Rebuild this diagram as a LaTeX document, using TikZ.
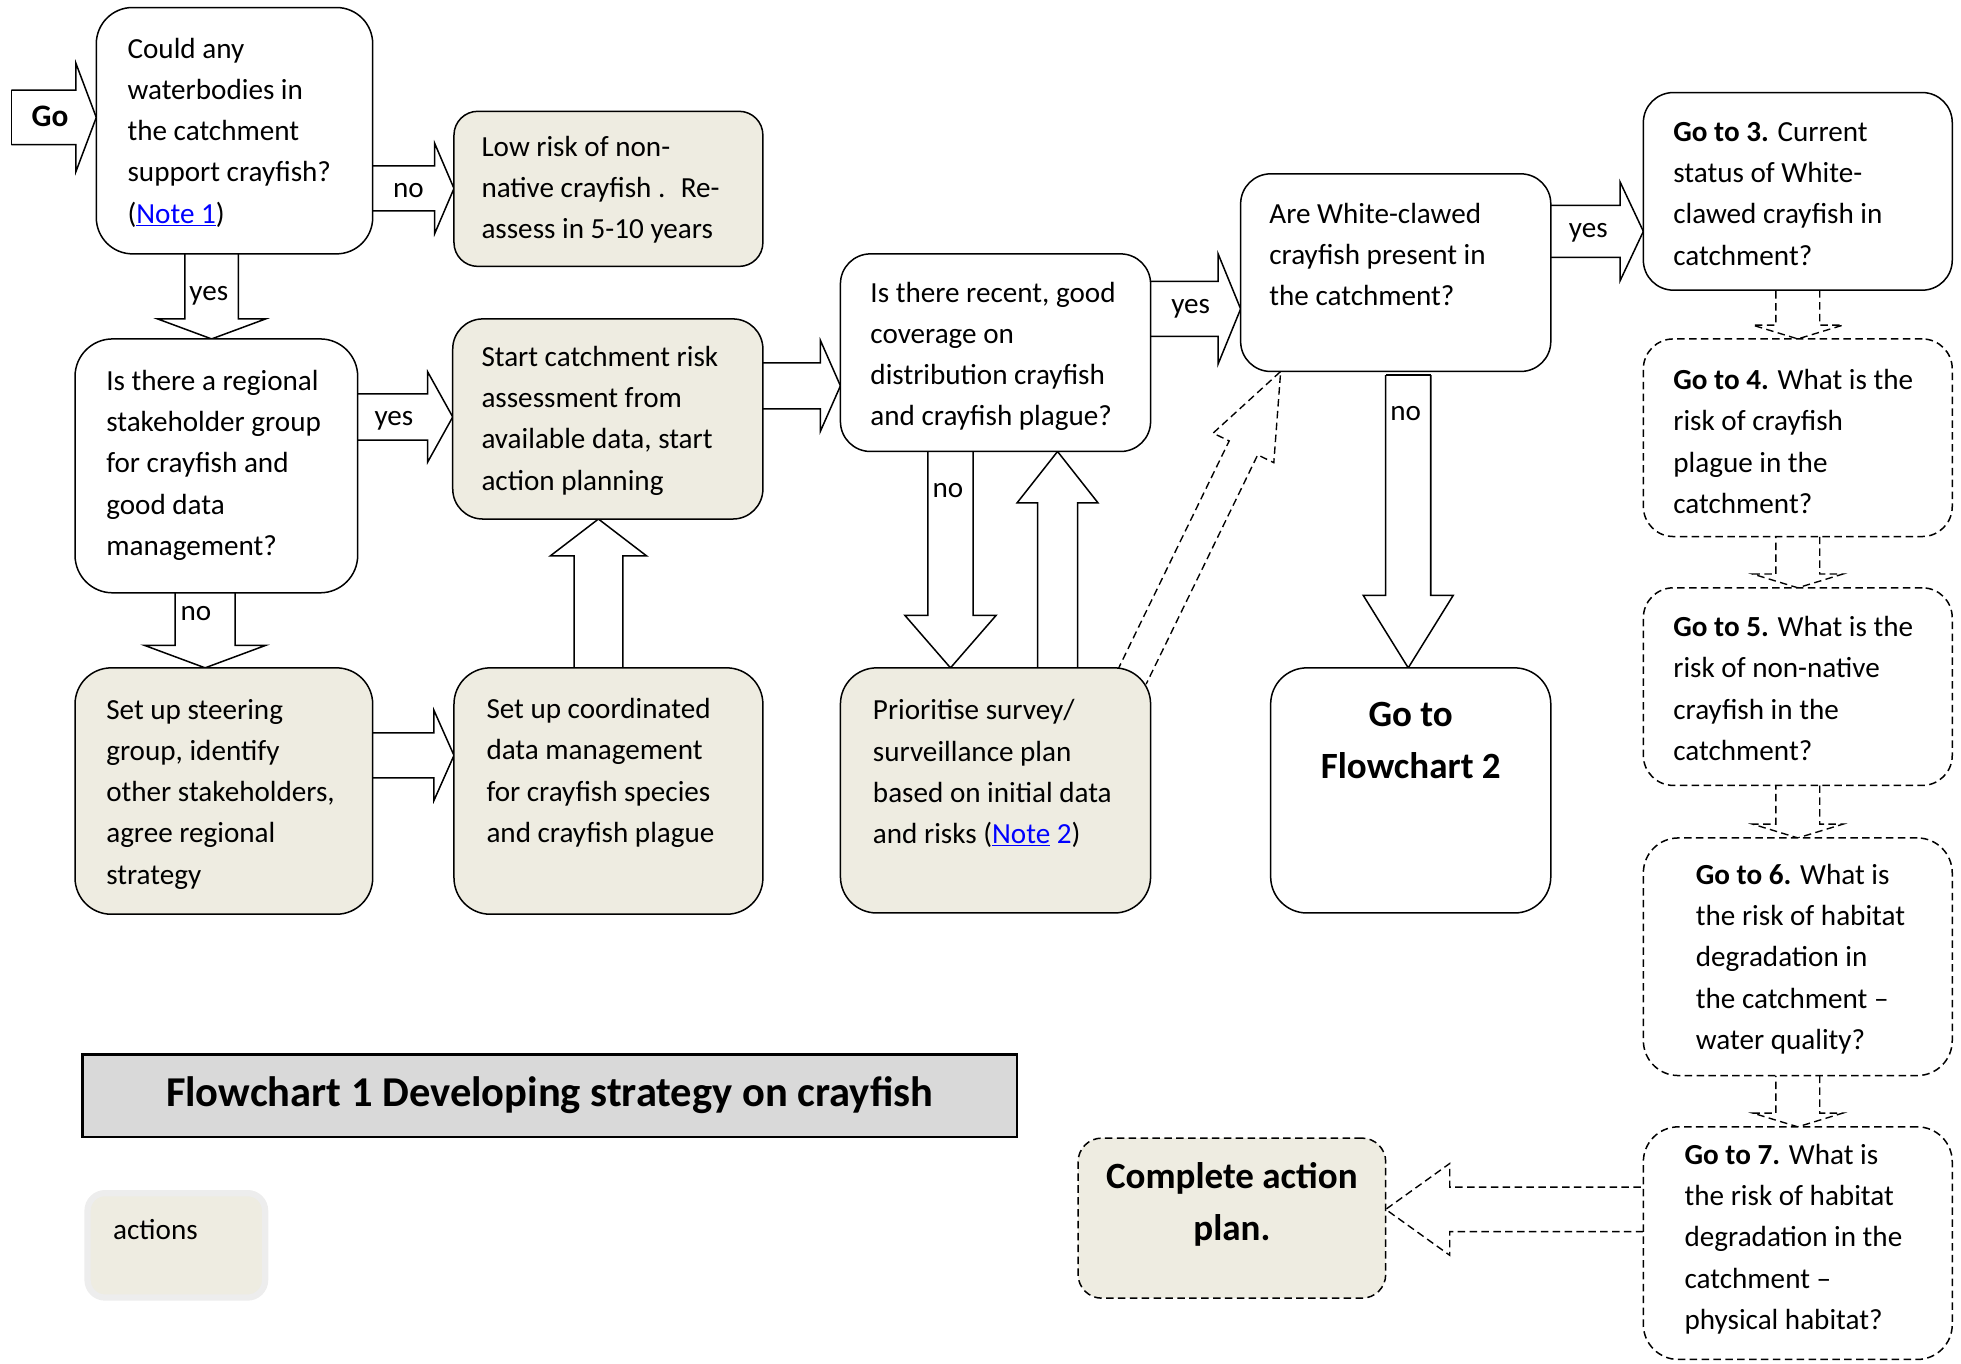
\documentclass[tikz,border=0pt]{standalone}
\usepackage{fontspec}
\setmainfont{Carlito}
\usetikzlibrary{calc}
\pgfdeclarelayer{bg}
\pgfsetlayers{bg,main}

\definecolor{actfill}{HTML}{EEECE1}
\definecolor{titlefill}{HTML}{D9D9D9}
\definecolor{legendrim}{HTML}{EDEDED}
\definecolor{linkblue}{HTML}{0000FF}

% hyperlink-looking text
\newcommand\link[1]{\textcolor{linkblue}{\underline{#1}}}
% left-aligned box text: pad, first baseline, width, height, text
\newcommand\lbox[5]{\parbox[c][#4pt][t]{#3pt}{\fontsize{23.3pt}{33pt}\selectfont\parindent=0pt\leftskip=#1pt\rightskip=-60pt plus 1fil\parfillskip=0pt\rule{0pt}{#2pt}#5}}
% centred bold box text: first baseline, width, height, text
\newcommand\cbox[4]{\parbox[c][#3pt][t]{#2pt}{\fontsize{29.6pt}{42pt}\selectfont\bfseries\centering\rule{0pt}{#1pt}#4}}

% block arrow: [style] start, tip, body half-width, head half-width, head length
\newcommand\barrow[6][]{%
  \coordinate (bas) at #2;
  \coordinate (bat) at #3;
  \coordinate (bah) at ($(bat)!#6pt!(bas)$);
  \coordinate (bl0) at ($(bas)!#4pt!90:(bat)$);
  \coordinate (br0) at ($(bas)!#4pt!-90:(bat)$);
  \coordinate (bl1) at ($(bah)!#4pt!90:(bat)$);
  \coordinate (br1) at ($(bah)!#4pt!-90:(bat)$);
  \coordinate (bl2) at ($(bah)!#5pt!90:(bat)$);
  \coordinate (br2) at ($(bah)!#5pt!-90:(bat)$);
  \fill[white] (bl0) -- (bl1) -- (bl2) -- (bat) -- (br2) -- (br1) -- (br0) -- cycle;
  \draw[blockarrow,#1] (bl0) -- (bl1) -- (bl2) -- (bat) -- (br2) -- (br1) -- (br0);}

\tikzset{
  box/.style={draw, line width=1.2pt, inner sep=0pt, outer sep=0pt, anchor=north west, rounded corners=#1},
  box/.default=26pt,
  qbox/.style={box=#1, fill=white},
  qbox/.default=26pt,
  abox/.style={box=#1, fill=actfill},
  abox/.default=26pt,
  dashbox/.style={box=#1, fill=white, dash pattern=on 6pt off 3.5pt},
  dashbox/.default=26pt,
  blockarrow/.style={line width=1.2pt, line join=miter},
  dasharrow/.style={dash pattern=on 6pt off 3.5pt, line width=1.1pt},
  lbl/.style={anchor=base, inner sep=0pt, font=\fontsize{23.3pt}{28pt}\selectfont},
  titlebox/.style={draw, line width=2pt, fill=titlefill, minimum width=747pt, minimum height=66pt, inner sep=0pt, font=\fontsize{34pt}{40pt}\selectfont\bfseries},
  legendbox/.style={draw=legendrim, line width=5pt, fill=actfill, rounded corners=14pt, inner sep=0pt, anchor=north west},
}

\begin{document}
\begin{tikzpicture}[x={(1pt,0pt)}, y={(0pt,-1pt)}]
\useasboundingbox (0,0) rectangle (1568,1090);

% ---- boxes ----
\node[qbox=29pt] (A) at (77,6) {\lbox{25}{40.5}{221}{197}{Could any\\waterbodies in\\the catchment\\support crayfish?\\(\link{Note 1})}};
\node[abox=19pt] (B) at (363,89) {\lbox{22}{36}{247}{124}{Low risk of non-\\native crayfish .~ Re-\\assess in 5-10 years}};
\node[qbox=30pt] (C) at (60,271) {\lbox{25}{41}{226}{203}{Is there a regional\\stakeholder group\\for crayfish and\\good data\\management?}};
\node[abox=24pt] (D) at (362,255) {\lbox{23}{38}{248}{160}{Start catchment risk\\assessment from\\available data, start\\action planning}};
\node[abox=29pt] (E) at (60,534) {\lbox{25}{41}{238}{197}{Set up steering\\group, identify\\other stakeholders,\\agree regional\\strategy}};
\node[abox=29pt] (F) at (363,534) {\lbox{26}{40.5}{247}{197}{Set up coordinated\\data management\\for crayfish species\\and crayfish plague}};
\node[qbox=24pt] (G) at (672,203) {\lbox{24}{38.5}{248}{158}{Is there recent, good\\coverage on\\distribution crayfish\\and crayfish plague?}};
\node[abox=29pt] (H) at (672,534) {\lbox{26}{41.5}{248}{196}{Prioritise survey/\\surveillance plan\\based on initial data\\and risks (\link{Note} \textcolor{linkblue}{2})}};
\node[qbox=24pt] (I) at (992,139) {\lbox{23}{39.5}{248}{158}{Are White-clawed\\crayfish present in\\the catchment?}};
\node[qbox=29pt] (J) at (1016,534) {\cbox{46.6}{224}{196}{Go to\\Flowchart 2}};
\node[qbox=24pt] (K) at (1314,74) {\lbox{24}{39}{247}{158}{\textbf{Go to 3.} Current\\status of White-\\clawed crayfish in\\catchment?}};
\node[dashbox=24pt] (L) at (1314,271) {\lbox{24}{40.5}{247}{158}{\textbf{Go to 4.} What is the\\risk of crayfish\\plague in the\\catchment?}};
\node[dashbox=24pt] (M) at (1314,470) {\lbox{24}{39}{247}{158}{\textbf{Go to 5.} What is the\\risk of non-native\\crayfish in the\\catchment?}};
\node[dashbox=28pt] (N) at (1314,670) {\lbox{42}{37}{247}{190}{\textbf{Go to 6.} What is\\the risk of habitat\\degradation in\\the catchment --\\water quality?}};
\node[dashbox=28pt] (O) at (1314,901) {\lbox{33}{30}{247}{186}{\textbf{Go to 7.} What is\\the risk of habitat\\degradation in the\\catchment --\\physical habitat?}};
\node[dashbox=19pt, fill=actfill] (P) at (862,910) {\cbox{40}{246}{128}{Complete action\\plan.}};

% ---- title and legend ----
\node[titlebox] (T) at (439.5,876) {Flowchart 1 Developing strategy on crayfish};
\node[legendbox] (Lg) at (67.5,951.5) {\lbox{20.5}{37}{142}{83.5}{actions}};

% ---- block arrows ----
\begin{pgfonlayer}{bg}
\coordinate (gotail) at (9,93.9);
\barrow{(gotail)}{(A.west |- 0,93.9)}{21.75}{43.3}{16.3}
\draw[blockarrow] (bl0) -- (br0);
\barrow{(A.east |- 0,150.7)}{(B.west |- 0,150.7)}{18}{36}{15.4}
\barrow{(A.south -| 169.2,0)}{(C.north -| 169.2,0)}{21.4}{43.2}{16}
\barrow{(C.east |- 0,333.4)}{(D.west |- 0,333.4)}{18.5}{36}{20}
\barrow{(C.south -| 164,0)}{(E.north -| 164,0)}{24}{48.5}{18}
\barrow{(E.east |- 0,604)}{(F.west |- 0,604)}{18}{36}{16}
\barrow{(F.north -| 478.5,0)}{(D.south -| 478.5,0)}{19.5}{38.5}{29.5}
\barrow{(D.east |- 0,308.5)}{(G.west |- 0,308.5)}{18.4}{36.3}{16}
\barrow{(G.south -| 760,0)}{(H.north -| 760,0)}{18}{36.5}{42}
\barrow{(H.north -| 845.6,0)}{(G.south -| 845.6,0)}{16}{32.3}{41}
\barrow{(G.east |- 0,247)}{(I.west |- 0,247)}{22}{44}{18}
\barrow{($(I.south -| 1126,0)+(0,3)$)}{(J.north -| 1126,0)}{18}{36}{58}
\draw[blockarrow] (bl0) -- (br0);
\barrow{(I.east |- 0,185)}{(K.west |- 0,185)}{20.7}{39.5}{18.6}
\barrow[dasharrow]{($(H.north east)+(-15,7.5)$)}{($(I.south west)+(32,0)$)}{12.7}{27}{68}
\barrow[dasharrow]{(K.south)}{(L.north)}{17.5}{36}{11}
\barrow[dasharrow]{(L.south)}{(M.north)}{17.5}{36}{11}
\barrow[dasharrow]{(M.south)}{(N.north)}{17.5}{36}{11}
\barrow[dasharrow]{(N.south)}{(O.north)}{17.5}{36}{11}
\barrow[dasharrow]{(O.west |- 0,967)}{(P.east |- 0,967)}{17.75}{36.7}{51.2}
\end{pgfonlayer}

% ---- arrow labels ----
\node[lbl, font=\fontsize{25pt}{30pt}\selectfont\bfseries] (go) at (40,101.5) {Go};
\node[lbl] (n1) at (326.5,158) {no};
\node[lbl] (y1) at (167,240.2) {yes};
\node[lbl] (y2) at (315,340.5) {yes};
\node[lbl] (n2) at (156.6,496) {no};
\node[lbl] (n3) at (758,398) {no};
\node[lbl] (y3) at (952,251) {yes};
\node[lbl] (n4) at (1124,336.5) {no};
\node[lbl] (y4) at (1270,189.5) {yes};
\end{tikzpicture}
\end{document}
